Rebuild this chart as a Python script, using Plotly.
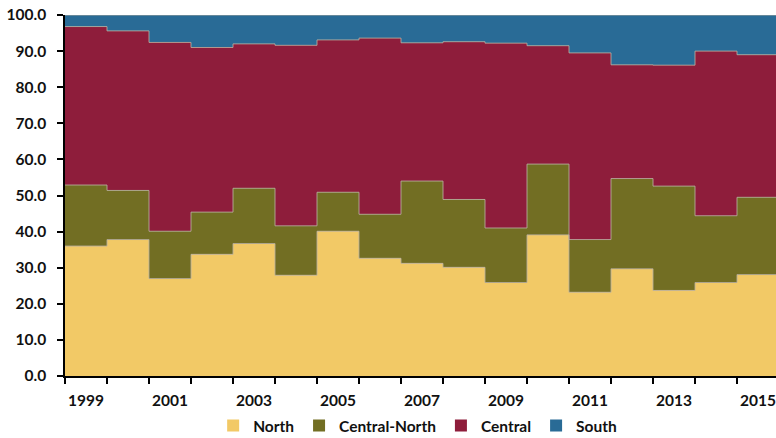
import plotly.graph_objects as go

years = list(range(1999, 2016))
north = [36.0, 37.8, 27.0, 33.7, 36.7, 27.9, 40.1, 32.6, 31.2, 30.1, 25.9, 39.1, 23.2, 29.7, 23.7, 25.9, 28.1]
central_north = [16.9, 13.6, 13.1, 11.7, 15.3, 13.7, 10.8, 12.2, 22.8, 18.8, 15.1, 19.6, 14.6, 25.0, 28.9, 18.5, 21.4]
central = [43.9, 44.2, 52.3, 45.6, 40.0, 50.0, 42.2, 48.8, 38.3, 43.7, 51.2, 32.8, 51.7, 31.5, 33.5, 45.6, 39.5]
south = [3.2, 4.4, 7.6, 9.0, 8.0, 8.4, 6.9, 6.4, 7.7, 7.4, 7.8, 8.5, 10.5, 13.8, 13.9, 10.0, 11.0]

series = [
    ("North", north, "#F2C966"),
    ("Central-North", central_north, "#726E23"),
    ("Central", central, "#8E1D3B"),
    ("South", south, "#296B96"),
]
y_ticks = [0, 10, 20, 30, 40, 50, 60, 70, 80, 90, 100]
x_label_years = years[::2]

FONT = "Lato"
TXT = "#111111"
FS = 15.5

fig = go.Figure()
for name, vals, color in series:
    fig.add_trace(go.Bar(
        x=years, y=vals, name=name,
        marker=dict(color=color, line=dict(width=0)),
    ))

# thin boundary lines between stacked areas
cum = [0.0] * len(years)
for name, vals, color in series:
    cum = [c + v for c, v in zip(cum, vals)]
    xs = [y - 0.5 for y in years] + [years[-1] + 0.5]
    ys = cum + [cum[-1]]
    fig.add_trace(go.Scatter(
        x=xs, y=ys, mode="lines", line=dict(shape="hv", color="rgba(185,175,160,0.85)", width=1),
        showlegend=False, hoverinfo="skip",
    ))

band_px = 42.0
plot_w = 776 - 65
fig.update_layout(
    width=776, height=438,
    margin=dict(l=65, r=0, t=15, b=62, autoexpand=False),
    paper_bgcolor="white", plot_bgcolor="white",
    barmode="stack", bargap=0,
    font=dict(family=FONT, size=FS, color=TXT, weight="bold"),
    showlegend=True,
    legend=dict(
        orientation="h", x=0.496, xanchor="center",
        yref="container", y=12 / 438, yanchor="middle",
        font=dict(family=FONT, size=FS, color=TXT, weight="bold"),
        traceorder="normal", itemwidth=30,
    ),
    xaxis=dict(
        range=[years[0] - 0.5, years[0] - 0.5 + plot_w / band_px],
        tickmode="array", tickvals=x_label_years, ticktext=[str(y) for y in x_label_years],
        ticks="", showgrid=False, zeroline=False, automargin=False,
        ticklabeloverflow="allow",
        showline=True, linecolor="black", linewidth=1.5,
        ticklabelstandoff=10,
        tickfont=dict(family=FONT, size=FS, color=TXT, weight="bold"),
        minor=dict(tickmode="array", tickvals=[y - 0.5 for y in years] + [years[-1] + 0.5],
                   ticks="outside", ticklen=6, tickcolor="black", tickwidth=1.5, showgrid=False),
    ),
    yaxis=dict(
        range=[0, 100], tickmode="array", tickvals=y_ticks, tickformat=".1f",
        ticks="outside", ticklen=6, tickcolor="black", tickwidth=1.5,
        showgrid=False, zeroline=False, automargin=False,
        ticklabelstandoff=8,
        showline=True, linecolor="black", linewidth=1.5,
        tickfont=dict(family=FONT, size=FS, color=TXT, weight="bold"),
    ),
)

fig.write_html("out.html")
